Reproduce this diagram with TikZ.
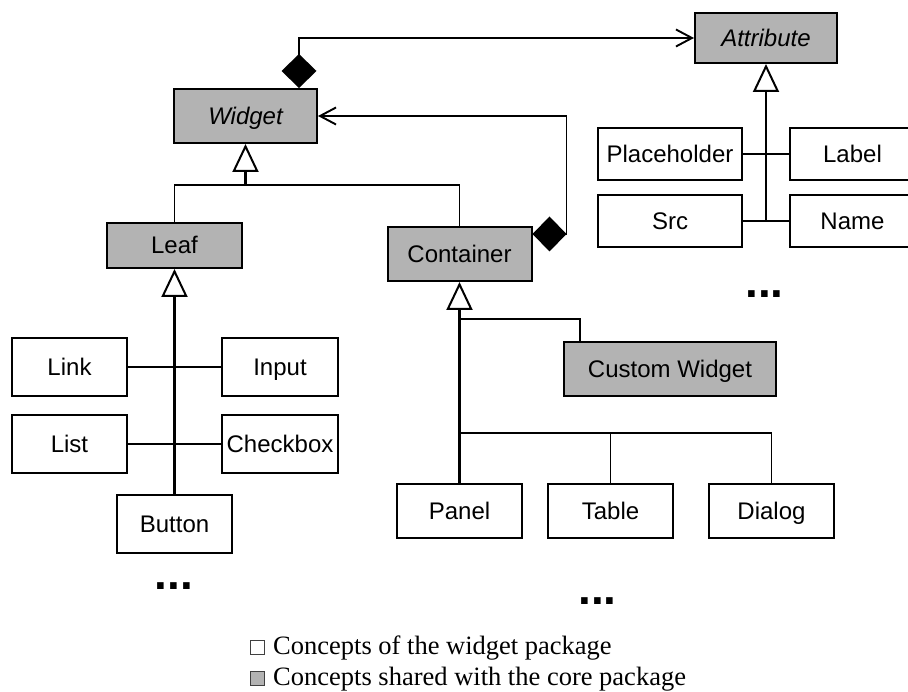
\documentclass[tikz,border=0pt]{standalone}
\usepackage{fontspec}
\setmainfont{Liberation Serif}
\newfontfamily\boxfont{Liberation Sans}
\usetikzlibrary{arrows.meta,calc}
\definecolor{sharedgray}{RGB}{179,179,179}
\begin{document}
\begin{tikzpicture}[x=1pt,y=-1pt,
  umlbox/.style={draw, line width=2pt, inner sep=0pt, fill=white,
    text height=17pt, text depth=0pt,
    font=\boxfont\fontsize{24}{28}\selectfont},
  shared/.style={umlbox, fill=sharedgray},
  conn/.style={line width=1.9pt},
  gen/.style={line width=2.6pt, -{Triangle[open,length=28pt,width=26pt,line width=2pt]}},
  comp/.style={line width=1.9pt, {Diamond[length=34pt,width=35pt]}-{Straight Barb[length=16pt,width=17pt]}},
  dots/.style={inner sep=0pt, anchor=base, font=\boxfont\bfseries\fontsize{46}{46}\selectfont},
  legtext/.style={inner sep=0pt, anchor=base west, font=\fontsize{26.5}{31}\selectfont},
  legsq/.style={draw=black!75, line width=0.9pt, minimum size=14pt, inner sep=0pt}
]
\useasboundingbox (0,0) rectangle (908,692);
\begin{scope}
\clip (0,0) rectangle (908,692);
% top level
\node[shared, minimum width=142pt, minimum height=50pt] (attr) at (766,38) {\itshape Attribute};
\node[shared, minimum width=143pt, minimum height=54pt] (widget) at (245.5,116) {\itshape Widget};
\node[shared, minimum width=135pt, minimum height=45pt] (leaf) at (174.5,245.5) {Leaf};
\node[shared, minimum width=144pt, minimum height=54pt] (cont) at (459.5,254) {Container};
\node[shared, minimum width=212pt, minimum height=54pt] (cw) at (670,369) {Custom Widget};
% attributes
\node[umlbox, minimum width=144pt, minimum height=52pt] (ph) at (670,154) {Placeholder};
\node[umlbox, minimum width=125pt, minimum height=52pt] (label) at (852.5,154) {Label};
\node[umlbox, minimum width=144pt, minimum height=52pt] (src) at (670,221) {Src};
\node[umlbox, minimum width=125pt, minimum height=52pt] (name) at (852.5,221) {Name};
% leaves
\node[umlbox, minimum width=115pt, minimum height=58pt] (link) at (69.5,367) {Link};
\node[umlbox, minimum width=116pt, minimum height=58pt] (input) at (280,367) {Input};
\node[umlbox, minimum width=115pt, minimum height=58pt] (list) at (69.5,444) {List};
\node[umlbox, minimum width=116pt, minimum height=58pt] (check) at (280,444) {Checkbox};
\node[umlbox, minimum width=115pt, minimum height=58pt] (button) at (174.5,524) {Button};
% containers
\node[umlbox, minimum width=125pt, minimum height=54pt] (panel) at (459.5,511) {Panel};
\node[umlbox, minimum width=125pt, minimum height=54pt] (table) at (610.5,511) {Table};
\node[umlbox, minimum width=125pt, minimum height=54pt] (dialog) at (771.5,511) {Dialog};
\end{scope}

% ellipses
\node[dots] (d1) at (174,589) {...};
\node[dots] (d2) at (764.5,298) {...};
\node[dots] (d3) at (597.5,604) {...};

% compositions
\draw[comp] ([xshift=-19pt]widget.north east) |- (attr.west);
\draw[comp] ([yshift=20pt]cont.east) -- ++(34,0) |- (widget.east);

% widget generalization
\coordinate (wbar) at (245.5,185);
\draw[conn] (leaf.north) |- (wbar) -| (cont.north);
\draw[gen] (wbar) -- (widget.south);

% attribute generalization
\draw[conn] (ph.east) -- (label.west);
\draw[conn] (src.east) -- (name.west);
\coordinate (abr) at ($(src.east)!0.5!(name.west)$);
\draw[gen] (abr) -- (attr.south);

% leaf generalization
\draw[conn] (link.east) -- (input.west);
\draw[conn] (list.east) -- (check.west);
\draw[gen] (button.north) -- (leaf.south);

% container generalization
\draw[conn] (panel.north) -- ++(0,-50) -| (dialog.north);
\draw[conn] (table.north) -- ++(0,-50);
\coordinate (cbr) at (459.5,319);
\draw[conn] ([xshift=17pt]cw.north west) |- (cbr);
\draw[gen] (panel.north) -- (cont.south);

% legend
\node[legtext] (leg1) at (273,654) {Concepts of the widget package};
\node[legtext] (leg2) at (273,685) {Concepts shared with the core package};
\node[legsq, fill=white, anchor=south east] (sq1) at ([xshift=-8pt,yshift=-1pt]leg1.base west) {};
\node[legsq, fill=sharedgray, anchor=south east] (sq2) at ([xshift=-8pt,yshift=-1pt]leg2.base west) {};
\end{tikzpicture}
\end{document}
